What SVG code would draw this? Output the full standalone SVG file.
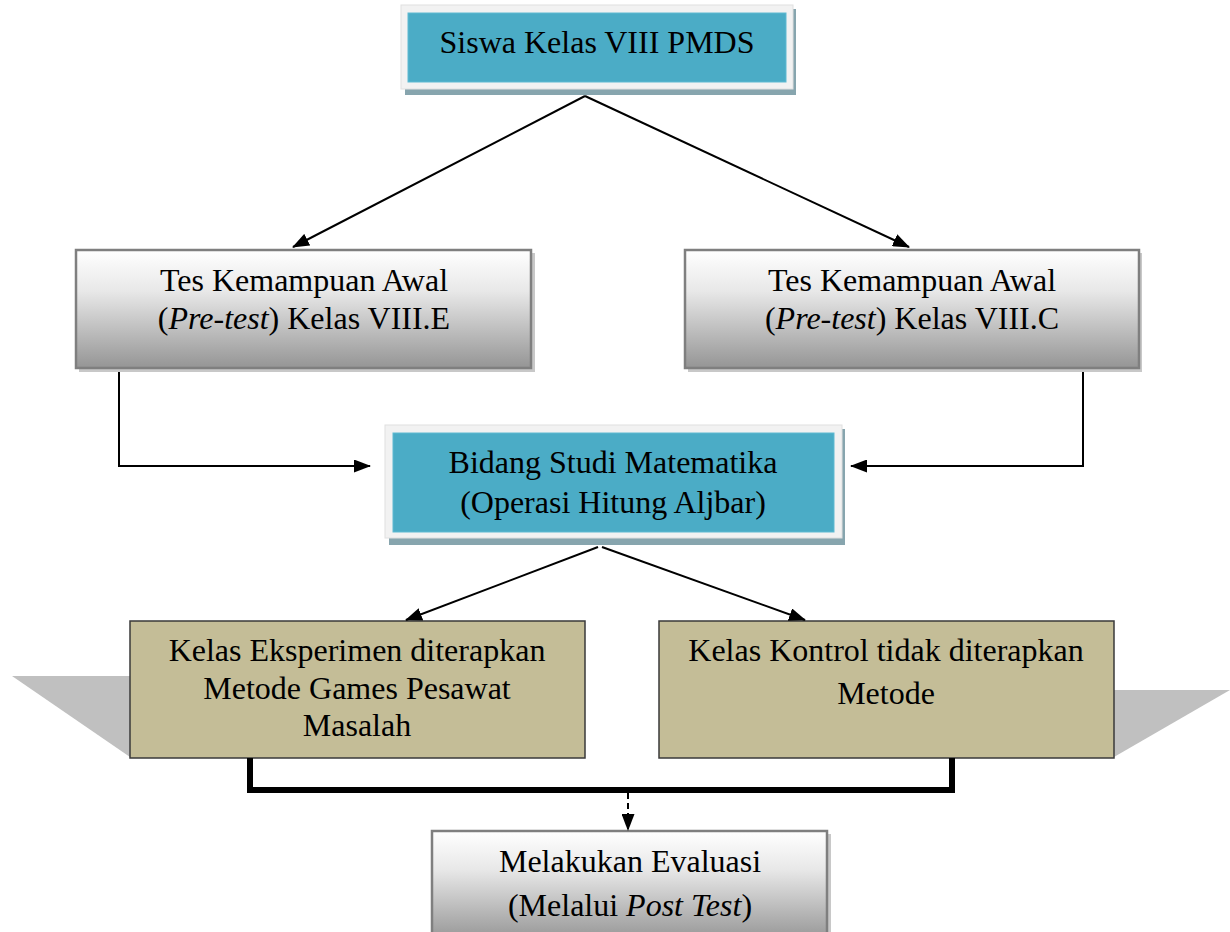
<svg xmlns="http://www.w3.org/2000/svg" width="1230" height="932" viewBox="0 0 1230 932">
<style>
text{font-family:"Liberation Serif","Times New Roman",serif;font-size:32px;fill:#000;text-anchor:middle}
.frame{fill:#f2f2f2;stroke:#e0e0e0;stroke-width:1}
.tshadow{fill:#87a5ae}
.teal{fill:#4bacc6;stroke:#5fbad2;stroke-width:1}
.gbox{fill:url(#gg);stroke:#7f7f7f;stroke-width:2.5}
.gshadow{fill:#c8c8c8}
.kbox{fill:#c4bd97;stroke:#3a3a3a;stroke-width:1.5}
.pshadow{fill:#c0c0c0}
.conn{stroke:#000;stroke-width:2;fill:none}
</style>
<defs>
<linearGradient id="gg" x1="0" y1="0" x2="0" y2="1">
<stop offset="0" stop-color="#ffffff"/>
<stop offset="0.35" stop-color="#e8e8e8"/>
<stop offset="1" stop-color="#959595"/>
</linearGradient>
<marker id="ah" markerWidth="17" markerHeight="13" refX="16" refY="6.5" orient="auto" markerUnits="userSpaceOnUse">
<path d="M0,0 L17,6.5 L0,13 Z" fill="#000"/>
</marker>
</defs>

<g id="n1">
<rect class="tshadow" x="405" y="9" width="391" height="86"/>
<rect class="frame" x="401" y="5" width="392" height="84"/>
<rect class="teal" x="408" y="13" width="378" height="69"/>
<text x="597" y="53">Siswa Kelas VIII PMDS</text>
</g>

<g id="n2">
<rect class="gshadow" x="79" y="253" width="456" height="119"/>
<rect class="gbox" x="76" y="250" width="455" height="118"/>
<text x="304" y="291">Tes Kemampuan Awal</text>
<text x="304" y="329">(<tspan font-style="italic">Pre-test</tspan>) Kelas VIII.E</text>
</g>

<g id="n3">
<rect class="gshadow" x="688" y="253" width="454" height="119"/>
<rect class="gbox" x="685" y="250" width="454" height="118"/>
<text x="912" y="291">Tes Kemampuan Awal</text>
<text x="912" y="329">(<tspan font-style="italic">Pre-test</tspan>) Kelas VIII.C</text>
</g>

<g id="n4">
<rect class="tshadow" x="389" y="429" width="456" height="116"/>
<rect class="frame" x="385" y="425" width="457" height="113"/>
<rect class="teal" x="393" y="433" width="441" height="99"/>
<text x="613" y="473">Bidang Studi Matematika</text>
<text x="613" y="513">(Operasi Hitung Aljbar)</text>
</g>

<g id="n5">
<polygon class="pshadow" points="12,676 200,676 200,757 130,757"/>
<rect class="kbox" x="130" y="621" width="455" height="137"/>
<text x="357" y="661">Kelas Eksperimen diterapkan</text>
<text x="357" y="699">Metode Games Pesawat</text>
<text x="357" y="736">Masalah</text>
</g>

<g id="n6">
<polygon class="pshadow" points="1050,690 1230,690 1114,757 1050,757"/>
<rect class="kbox" x="659" y="621" width="455" height="137"/>
<text x="886" y="661">Kelas Kontrol tidak diterapkan</text>
<text x="886" y="704">Metode</text>
</g>

<g id="n7">
<rect class="gshadow" x="435" y="834" width="396" height="110"/>
<rect class="gbox" x="432" y="831" width="395" height="110"/>
<text x="630" y="872">Melakukan Evaluasi</text>
<text x="630" y="916">(Melalui <tspan font-style="italic">Post Test</tspan>)</text>
</g>

<g id="connectors">
<line class="conn" x1="585" y1="96" x2="293" y2="247" marker-end="url(#ah)"/>
<line class="conn" x1="585" y1="96" x2="909" y2="247" marker-end="url(#ah)"/>
<polyline class="conn" points="119,372 119,466 370,466" marker-end="url(#ah)"/>
<polyline class="conn" points="1083,372 1083,466 851,466" marker-end="url(#ah)"/>
<line class="conn" x1="598" y1="547" x2="406" y2="620" marker-end="url(#ah)"/>
<line class="conn" x1="602" y1="547" x2="805" y2="620" marker-end="url(#ah)"/>
<polyline points="250,758 250,790 952,790 952,758" fill="none" stroke="#000" stroke-width="6"/>
<line x1="628" y1="793" x2="628" y2="830" stroke="#000" stroke-width="2" stroke-dasharray="6,4" marker-end="url(#ah)"/>
</g>
</svg>
